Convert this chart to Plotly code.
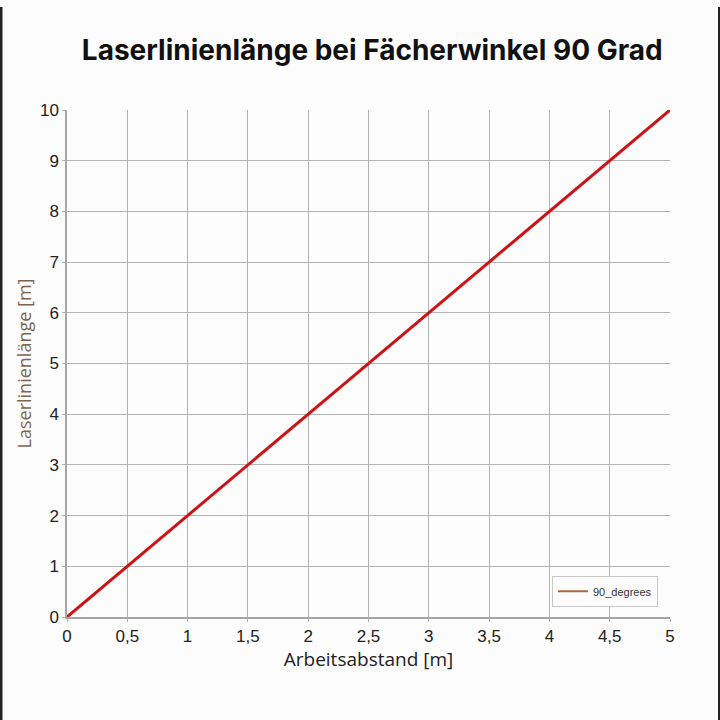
import plotly.graph_objects as go

# Arbeitsabstand [m] und Laserlinienlänge [m] bei 90 Grad
distance_m = [0, 0.5, 1, 1.5, 2, 2.5, 3, 3.5, 4, 4.5, 5]
line_length_m = [0, 1, 2, 3, 4, 5, 6, 7, 8, 9, 10]
series_name = "90_degrees"

x_ticks = [0, 0.5, 1, 1.5, 2, 2.5, 3, 3.5, 4, 4.5, 5]
y_ticks = list(range(0, 11))

fig = go.Figure()
fig.add_trace(go.Scatter(x=distance_m,
                         y=line_length_m,
                         mode='lines',
                         line=dict(color='#cc1417', width=3),
                         showlegend=False,
                         hoverinfo='x+y'
                         ))
# legend entry only (legend swatch is drawn in a brownish tone)
fig.add_trace(go.Scatter(x=[None], y=[None],
                         mode='lines',
                         name=series_name,
                         line=dict(color='#b0653f', width=2)
                         ))

grid = dict(showgrid=True, gridcolor='#b3b3b3', gridwidth=1,
            showline=True, linecolor='#a6a6a6', linewidth=1.5,
            zeroline=False, ticks='outside', ticklen=3, tickcolor='#b3b3b3',
            tickfont=dict(family='Liberation Sans', size=17, color='#222222'))

fig.update_layout(
    width=720, height=720,
    paper_bgcolor='#fcfcfc',
    plot_bgcolor='#fcfcfc',
    separators=', ',
    margin=dict(l=67, r=50, t=110, b=103),
    title=dict(text='<b>Laserlinienlänge bei Fächerwinkel 90 Grad</b>',
               x=0.517, xref='container', y=0.93, yref='container',
               xanchor='center', yanchor='middle',
               font=dict(family='Inter', size=28, color='#111111')),
    xaxis=dict(range=[0, 5], tickvals=x_ticks,
               title=dict(text='Arbeitsabstand [m]', standoff=4,
                          font=dict(family='Open Sans', size=19, color='#222222')),
               **grid),
    yaxis=dict(range=[0, 10], tickvals=y_ticks,
               title=dict(text='Laserlinienlänge [m]', standoff=4,
                          font=dict(family='Open Sans', size=18, color='#7a6650')),
               **grid),
    legend=dict(x=0.98, y=0.02, xanchor='right', yanchor='bottom',
                bgcolor='#fcfcfc', bordercolor='#c8c8c8', borderwidth=1,
                font=dict(family='Liberation Sans', size=11, color='#333333'),
                itemwidth=30),
    shapes=[
        dict(type='line', xref='paper', yref='paper',
             x0=-66 / 603, x1=-66 / 603, y0=-103 / 507, y1=610 / 507,
             line=dict(color='#222222', width=3)),
        dict(type='line', xref='paper', yref='paper',
             x0=(719 - 67) / 603, x1=(719 - 67) / 603, y0=-103 / 507, y1=610 / 507,
             line=dict(color='#222222', width=2)),
    ],
)

# drop the default page margin so the figure sits at the window corner
fig.write_html("out.html",
               config={'displayModeBar': False},
               post_script="document.body.style.margin='0';")
